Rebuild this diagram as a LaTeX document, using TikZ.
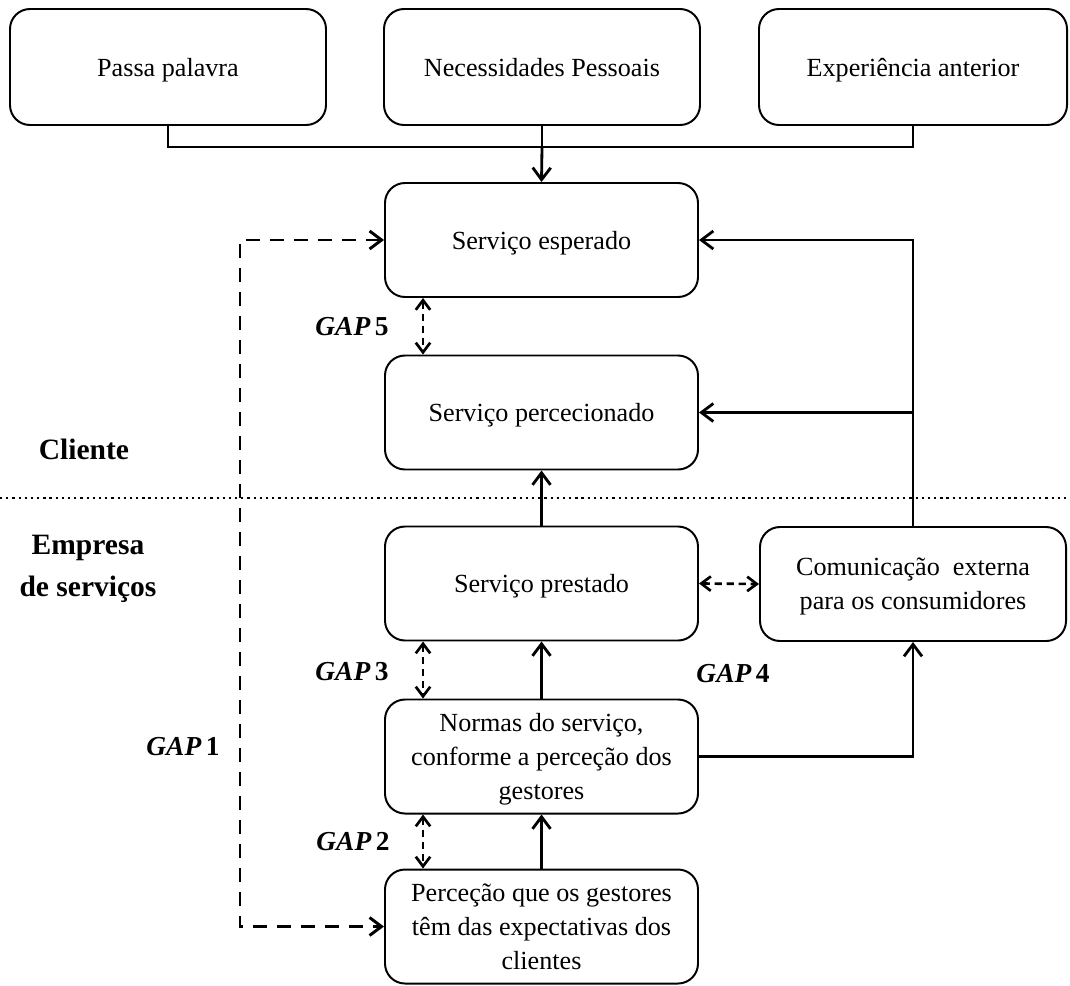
\documentclass[tikz,border=0pt]{standalone}
\usepackage{fontspec}
\setmainfont{Liberation Serif}
\usetikzlibrary{arrows.meta}

\begin{document}
\begin{tikzpicture}[x=0.25mm,y=0.25mm,
  box/.style={draw,rounded corners=5mm,line width=1.4pt,align=center,inner sep=0pt,text depth=-1.6mm,
    font=\fontsize{18.6}{24}\selectfont,minimum width=78.25mm,minimum height=28.5mm},
  link/.style={line width=2pt},
  arr/.style={link,-{Straight Barb[length=3mm,width=4.5mm]}},
  gapline/.style={line width=2.1pt,dash pattern=on 3.5mm off 2.5mm,
    {Straight Barb[length=3mm,width=4.5mm]}-{Straight Barb[length=3mm,width=4.5mm]}},
  gaparr/.style={line width=1.9pt,dash pattern=on 1.8mm off 1.2mm,
    {Straight Barb[length=2.4mm,width=3.6mm]}-{Straight Barb[length=2.4mm,width=3.6mm]}},
  gaplabel/.style={font=\fontsize{19.5}{23}\selectfont\bfseries},
  side/.style={font=\fontsize{21}{30}\selectfont\bfseries,align=center}]
\useasboundingbox (0,0) rectangle (1070,-985);
\node[box,minimum width=79mm,minimum height=29mm] (pp) at (168,-67) {Passa palavra};
\node[box,minimum width=79mm,minimum height=29mm] (np) at (542,-67) {Necessidades Pessoais};
\node[box,minimum width=77mm,minimum height=29mm] (ea) at (913,-67) {Experiência anterior};
\node[box] (se) at (541.5,-240) {Serviço esperado};
\node[box] (sp) at (541.5,-412.5) {Serviço percecionado};
\node[box] (spr) at (541.5,-583.5) {Serviço prestado};
\node[box,minimum width=76.5mm] (ce) at (913,-584) {Comunicação\ \ externa\\para os consumidores};
\node[box] (ns) at (541.5,-756.5) {Normas do serviço,\\conforme a perceção dos\\gestores};
\node[box] (pg) at (541.5,-926.5) {Perceção que os gestores\\têm das expectativas dos\\clientes};
\node[side] (cl) at (84,-449) {Cliente};
\node[side] (es) at (88,-569) {Empresa\\de serviços};
\node[gaplabel] (g5) at (352,-327) {\itshape GAP\upshape\,5};
\node[gaplabel] (g3) at (352,-672) {\itshape GAP\upshape\,3};
\node[gaplabel] (g4) at (733,-674) {\itshape GAP\upshape\,4};
\node[gaplabel] (g2) at (353,-842) {\itshape GAP\upshape\,2};
\node[gaplabel] (g1) at (183,-747) {\itshape GAP\upshape\,1};
\coordinate (jn) at (542,-147);
\coordinate (gl) at (240,0);
\coordinate (gx) at (423,0);
\draw[dash pattern=on 1.6pt off 2.8pt,line width=1.8pt] (0,-498) -- (1070,-498);
\draw[link] (pp.south) |- (jn) -| (ea.south);
\draw[link] (np.south) -- (jn);
\draw[arr] (jn) -- (se.north);
\draw[gapline] (se.west) -- (se.west -| gl) -- (pg.west -| gl) -- (pg.west);
\draw[gaparr] (se.south -| gx) -- (sp.north -| gx);
\draw[gaparr] (spr.south -| gx) -- (ns.north -| gx);
\draw[gaparr] (ns.south -| gx) -- (pg.north -| gx);
\draw[gaparr] (spr.east) -- (ce.west);
\draw[arr] (ce.north) |- (se.east);
\draw[arr] (ce.north |- sp.east) -- (sp.east);
\draw[arr] (spr.north) -- (sp.south);
\draw[arr] (ns.north) -- (spr.south);
\draw[arr] (pg.north) -- (ns.south);
\draw[arr] (ns.east) -| (ce.south);
\end{tikzpicture}
\end{document}
